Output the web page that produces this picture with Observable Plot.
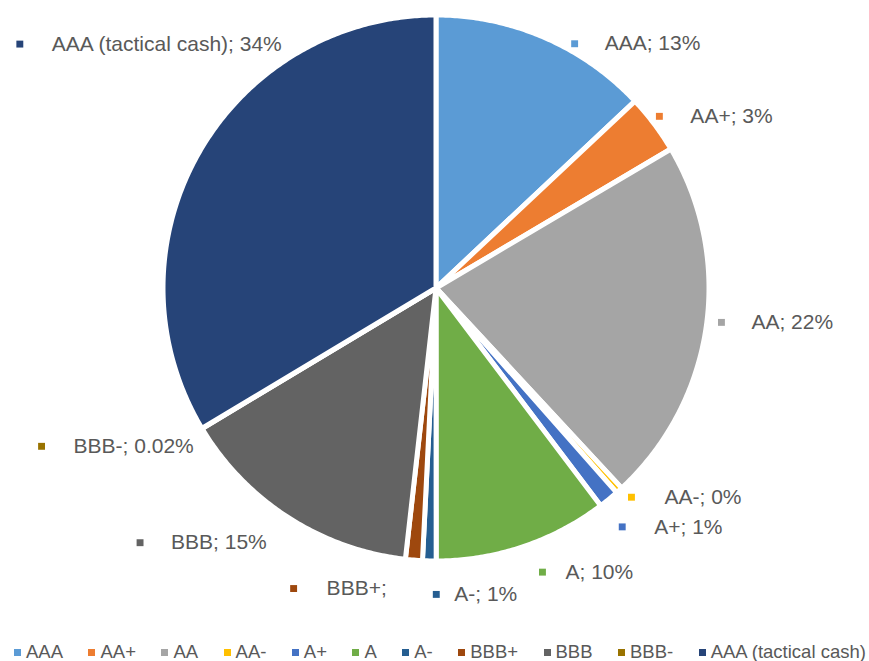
<!DOCTYPE html>
<html>
<head>
<meta charset="utf-8">
<script src="https://cdn.jsdelivr.net/npm/d3@7"></script>
<script src="https://cdn.jsdelivr.net/npm/@observablehq/plot@0.6"></script>
<style>
  html, body { margin: 0; padding: 0; background: #fff; }
  #wrap { position: relative; width: 869px; height: 661px; overflow: hidden; font-family: "Liberation Sans", Arial, sans-serif; }
  #legend { position: absolute; left: 14px; right: 3px; top: 641px; display: flex; justify-content: space-between; align-items: center; font-size: 18.5px; color: #595959; }
  #legend .item { display: flex; align-items: center; white-space: nowrap; }
  #legend .sw { width: 7px; height: 7px; margin-right: 5px; }
</style>
</head>
<body>
<div id="wrap"><div id="chart"></div><div id="legend"></div></div>
<script>
// ---- data ----
const categories = ["AAA", "AA+", "AA", "AA-", "A+", "A", "A-", "BBB+", "BBB", "BBB-", "AAA (tactical cash)"];
const shares = [13, 3.5, 21.6, 0.4, 1.2, 10.3, 0.8, 1.0, 14.6, 0.02, 33.6];
const labelTexts = ["AAA; 13%", "AA+; 3%", "AA; 22%", "AA-; 0%", "A+; 1%", "A; 10%", "A-; 1%", "BBB+;", "BBB; 15%", "BBB-; 0.02%", "AAA (tactical cash); 34%"];

// ---- style / layout ----
const palette = ["#5B9BD5", "#ED7D31", "#A5A5A5", "#FFC000", "#4472C4", "#70AD47", "#255E91", "#9E480E", "#636363", "#997300", "#264478"];
const W = 869, H = 620, CX = 436, CY = 288, R = 273, LABEL_R = 295;
const labelNudge = [[51, 26], [18, 5], [23, -8.5], [30, -10], [31, 10], [35, 4], [25, 11], [-86, 6], [-106, 6], [-110, 6], [-128, -99]];
const markerGap = [30, 31, 30, 33, 32, 23, 18, 33, 31, 32, 32];

// pie geometry via d3.pie (angles from 12 o'clock, clockwise)
const arcs = d3.pie().sort(null).value(d => d.v)(categories.map((c, i) => ({c, v: shares[i], i})));
const dir = a => [Math.sin(a), -Math.cos(a)];

const arcPoints = [];
for (const a of arcs) {
  const n = Math.max(2, Math.ceil((a.endAngle - a.startAngle) / (Math.PI / 360)));
  for (let k = 0; k <= n; k++) {
    const t = a.startAngle + (a.endAngle - a.startAngle) * k / n;
    const [dx, dy] = dir(t);
    arcPoints.push({cat: a.data.c, x: R * dx, y: R * dy, cx: 0, cy: 0});
  }
}

const labelData = arcs.map((a, i) => {
  const mid = (a.startAngle + a.endAngle) / 2;
  const [dx, dy] = dir(mid);
  const tx = LABEL_R * dx + labelNudge[i][0];
  const ty = LABEL_R * dy + labelNudge[i][1];
  return {cat: a.data.c, text: labelTexts[i], tx, ty, mx: tx - markerGap[i]};
});

const chart = Plot.plot({
  width: W, height: H,
  marginTop: 0, marginRight: 0, marginBottom: 0, marginLeft: 0,
  x: {domain: [-CX, W - CX], range: [0, W], axis: null},
  y: {domain: [-CY, H - CY], range: [0, H], axis: null},
  color: {domain: categories, range: palette},
  style: {fontFamily: "'Liberation Sans', Arial, sans-serif", background: "white"},
  marks: [
    Plot.area(arcPoints, {x1: "x", y1: "y", x2: "cx", y2: "cy", z: "cat", fill: "cat", stroke: "white", strokeWidth: 5}),
    Plot.dot(labelData, {x: "mx", y: "ty", symbol: "square", r: 3.9, fill: "cat", stroke: null}),
    Plot.text(labelData, {x: "tx", y: "ty", text: "text", textAnchor: "start", lineAnchor: "middle", fontSize: 21, fill: "#595959"})
  ]
});
document.getElementById("chart").appendChild(chart);

// legend
const legend = document.getElementById("legend");
categories.forEach((c, i) => {
  const item = document.createElement("div");
  item.className = "item";
  const sw = document.createElement("span");
  sw.className = "sw";
  sw.style.background = palette[i];
  const tx = document.createElement("span");
  tx.textContent = c;
  item.appendChild(sw); item.appendChild(tx);
  legend.appendChild(item);
});
</script>
</body>
</html>
